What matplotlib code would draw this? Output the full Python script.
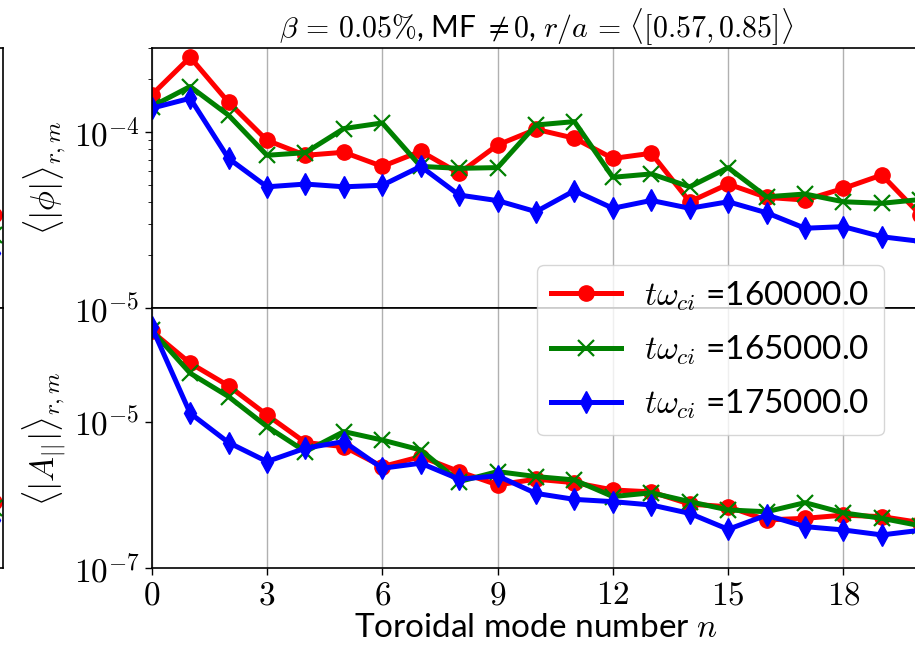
import numpy as np
import matplotlib
matplotlib.use("Agg")
import matplotlib.pyplot as plt
from matplotlib.ticker import FixedLocator, FuncFormatter, NullLocator, LogLocator

plt.rcParams['mathtext.fontset'] = 'cm'
plt.rcParams['font.family'] = ['Lato', 'DejaVu Sans']

# ---------------- data ----------------
n_modes = list(range(0, 21))

phi_160 = [1.63e-4, 2.67e-4, 1.48e-4, 9.0e-5, 7.4e-5, 7.7e-5, 6.4e-5, 7.8e-5, 5.85e-5, 8.47e-5,
           1.04e-4, 9.25e-5, 7.1e-5, 7.6e-5, 4.03e-5, 5.08e-5, 4.27e-5, 4.12e-5, 4.8e-5, 5.72e-5, 3.4e-5]
phi_165 = [1.40e-4, 1.82e-4, 1.25e-4, 7.4e-5, 7.66e-5, 1.05e-4, 1.13e-4, 6.4e-5, 6.24e-5, 6.3e-5,
           1.10e-4, 1.15e-4, 5.55e-5, 5.8e-5, 4.9e-5, 6.3e-5, 4.3e-5, 4.46e-5, 4.03e-5, 3.95e-5, 4.15e-5]
phi_175 = [1.37e-4, 1.56e-4, 7.1e-5, 4.9e-5, 5.08e-5, 4.9e-5, 5.0e-5, 6.4e-5, 4.4e-5, 4.09e-5,
           3.54e-5, 4.66e-5, 3.7e-5, 4.1e-5, 3.7e-5, 4.03e-5, 3.49e-5, 2.85e-5, 2.91e-5, 2.55e-5, 2.4e-5]

apar_160 = [1.7e-4, 6.26e-5, 3.07e-5, 1.23e-5, 5.17e-6, 4.56e-6, 2.43e-6, 3.33e-6, 2.08e-6, 1.37e-6,
            1.64e-6, 1.47e-6, 1.17e-6, 1.1e-6, 7.5e-7, 6.9e-7, 4.56e-7, 4.8e-7, 5.3e-7, 5.06e-7, 4.2e-7]
apar_165 = [1.75e-4, 4.57e-5, 2.19e-5, 8.55e-6, 3.9e-6, 7.3e-6, 5.6e-6, 4.1e-6, 1.52e-6, 2.08e-6,
            1.78e-6, 1.6e-6, 9.5e-7, 1.07e-6, 8.1e-7, 6.24e-7, 5.9e-7, 7.85e-7, 5.7e-7, 4.8e-7, 3.8e-7]
apar_175 = [1.95e-4, 1.30e-5, 5.17e-6, 2.85e-6, 4.34e-6, 5.34e-6, 2.31e-6, 2.71e-6, 1.64e-6, 1.82e-6,
            1.05e-6, 8.7e-7, 8.1e-7, 7.3e-7, 5.6e-7, 3.4e-7, 5.3e-7, 3.7e-7, 3.33e-7, 2.85e-7, 3.3e-7]

# neighbouring (cropped) panel: only its last point is visible at the left edge
edge_n = [20]
edge_phi_160, edge_phi_165, edge_phi_175 = [3.4e-5], [2.6e-5], [2.06e-5]
edge_apar_160, edge_apar_165, edge_apar_175 = [8.0e-7], [6.65e-7], [4.56e-7]

labels = [r'$t\omega_{ci}$ =160000.0', r'$t\omega_{ci}$ =165000.0', r'$t\omega_{ci}$ =175000.0']
colors = ['red', 'green', 'blue']
markers = ['o', 'x', 'd']

xticks = [0, 3, 6, 9, 12, 15, 18]
title = r'$\beta\, =\, 0.05\%$, MF $\neq 0$, $r/a\, =\, \langle[0.57, 0.85]\rangle$'
xlabel = r'Toroidal mode number $n$'
ylabel_top = r'$\langle|\phi|\rangle_{r,m}$'
ylabel_bot = r'$\langle|A_{||}|\rangle_{r,m}$'

FS = 24
LW = 3.6
MS = 11

W, H = 915, 652
fig = plt.figure(figsize=(W / 100, H / 100), dpi=100)

def fx(px):
    return px / W

def fy(py):
    return 1 - py / H

left, right = 151.7, 920.3
ytop, ymid, ybot = 48.3, 308.3, 568.3

ax1 = fig.add_axes([fx(left), fy(ymid), fx(right - left), (ymid - ytop) / H])
ax2 = fig.add_axes([fx(left), fy(ybot), fx(right - left), (ybot - ymid) / H])

# neighbour axes (cropped away except right edge)
nb_right = 3.0
nb_w = right - left
nb1 = fig.add_axes([fx(nb_right - nb_w), fy(ymid), fx(nb_w), (ymid - ytop) / H])
nb2 = fig.add_axes([fx(nb_right - nb_w), fy(ybot), fx(nb_w), (ybot - ymid) / H])

series_top = [phi_160, phi_165, phi_175]
series_bot = [apar_160, apar_165, apar_175]
edge_top = [edge_phi_160, edge_phi_165, edge_phi_175]
edge_bot = [edge_apar_160, edge_apar_165, edge_apar_175]

def log_fmt(v, pos):
    return r'$10^{%d}$' % int(round(np.log10(v)))

for ax, series, ylim, majors in [(ax1, series_top, (1e-5, 3.0e-4), [1e-5, 1e-4]),
                                 (ax2, series_bot, (1e-7, 3.5e-4), [1e-7, 1e-5, 1e-3])]:
    for s, c, m, lab in zip(series, colors, markers, labels):
        kw = dict(color=c, lw=LW, marker=m, ms=MS, label=lab)
        if m == 'x':
            kw['mew'] = 1.6
        ax.plot(n_modes, s, **kw)
    ax.set_yscale('log')
    ax.set_xlim(0, 20)
    ax.set_ylim(*ylim)
    ax.yaxis.set_major_locator(FixedLocator(majors))
    ax.yaxis.set_major_formatter(FuncFormatter(log_fmt))
    if ax is ax2:
        ax.yaxis.set_minor_locator(NullLocator())
    else:
        ax.yaxis.set_minor_locator(LogLocator(base=10, subs=np.arange(2, 10)))
    ax.xaxis.set_major_locator(FixedLocator(xticks))
    ax.xaxis.set_major_formatter(FuncFormatter(lambda v, p: r'$%d$' % int(round(v))))
    ax.grid(True, axis='x', color='#b0b0b0', lw=1.0)
    ax.tick_params(axis='both', labelsize=FS, width=1.0, length=5)
    ax.tick_params(axis='y', which='minor', length=3)
    for sp in ax.spines.values():
        sp.set_linewidth(1.2)

ax1.tick_params(axis='x', labelbottom=False, length=0)
ax1.set_title(title, fontsize=21.5, pad=7)
ax1.set_ylabel(ylabel_top, fontsize=FS)
ax2.set_ylabel(ylabel_bot, fontsize=FS)
ax2.set_xlabel(xlabel, fontsize=FS, labelpad=2)

for ax, series, ylim in [(nb1, edge_top, (1e-5, 3.0e-4)), (nb2, edge_bot, (1e-7, 3.5e-4))]:
    for s, c, m in zip(series, colors, markers):
        kw = dict(color=c, lw=LW, marker=m, ms=MS)
        if m == 'x':
            kw['mew'] = 1.6
        ax.plot(edge_n, s, **kw)
    ax.set_yscale('log')
    ax.set_xlim(0, 20.25)
    ax.set_ylim(*ylim)
    ax.set_xticks([])
    ax.set_yticks([])
    ax.yaxis.set_minor_locator(NullLocator())
    for sp in ax.spines.values():
        sp.set_linewidth(1.2)

handles, labs = ax1.get_legend_handles_labels()
fig.legend(handles, labs, loc='upper left', bbox_to_anchor=(fx(537), fy(265)),
           borderaxespad=0, fontsize=FS, handlelength=2.1, handletextpad=0.7,
           framealpha=0.8, labelspacing=0.62, borderpad=0.42)

fig.savefig('out.png', dpi=100)
